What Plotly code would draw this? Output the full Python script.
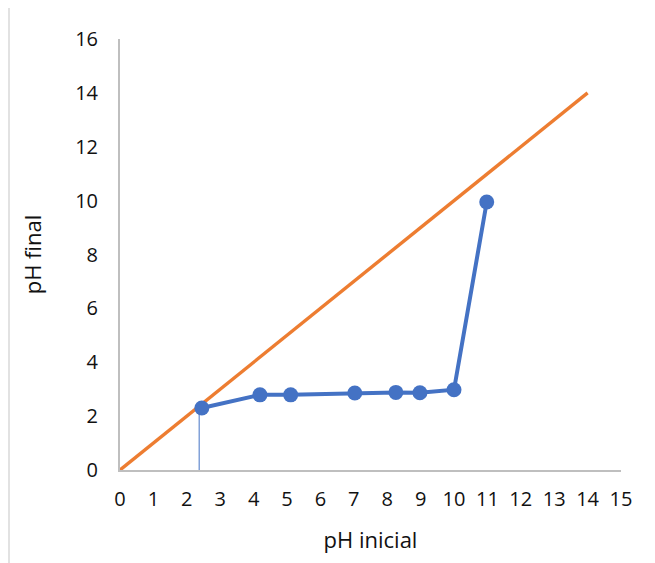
import plotly.graph_objects as go

# Data
ph_inicial = [2.45, 4.19, 5.11, 7.03, 8.26, 8.98, 10.0, 10.98]
ph_final = [2.3, 2.79, 2.79, 2.86, 2.88, 2.87, 2.98, 9.95]
ref_x = [0, 14]
ref_y = [0, 14]
drop_x = [2.37, 2.37]
drop_y = [0, 2.3]

x_ticks = list(range(0, 16))
y_ticks = list(range(0, 17, 2))

BLUE = "#4472C4"
ORANGE = "#ED7D31"
AXIS = "#BFBFBF"
FONT = "'Open Sans', Lato, sans-serif"

fig = go.Figure()
fig.add_trace(go.Scatter(x=drop_x, y=drop_y, mode="lines",
                         line=dict(color=BLUE, width=1), showlegend=False, hoverinfo="skip"))
fig.add_trace(go.Scatter(x=ref_x, y=ref_y, mode="lines",
                         line=dict(color=ORANGE, width=3.4), showlegend=False))
fig.add_trace(go.Scatter(x=ph_inicial, y=ph_final, mode="lines+markers",
                         line=dict(color=BLUE, width=4),
                         marker=dict(color=BLUE, size=15), showlegend=False))

fig.update_layout(
    width=655, height=563,
    margin=dict(l=112, r=42, t=31, b=101),
    plot_bgcolor="white", paper_bgcolor="white",
    font=dict(family=FONT, size=20, color="#111111"),
    xaxis=dict(range=[0, 15], tickvals=x_ticks, showgrid=False, zeroline=False,
               showline=True, linecolor=AXIS, linewidth=2, ticks="",
               ticklabelstandoff=10, automargin=False,
               title=dict(text="pH inicial", standoff=22, font=dict(size=22))),
    yaxis=dict(range=[0, 16], tickvals=y_ticks, showgrid=False, zeroline=False,
               showline=True, linecolor=AXIS, linewidth=2, ticks="",
               ticklabelstandoff=16, automargin=False,
               title=dict(text="pH final", standoff=27, font=dict(size=22))),
    shapes=[dict(type="rect", xref="paper", yref="paper",
                 x0=-111/501, x1=1.2, y0=-0.4, y1=463/431,
                 line=dict(color="#D9D9D9", width=1.5), fillcolor="rgba(0,0,0,0)", layer="below")],
)

fig.write_html("out.html")
